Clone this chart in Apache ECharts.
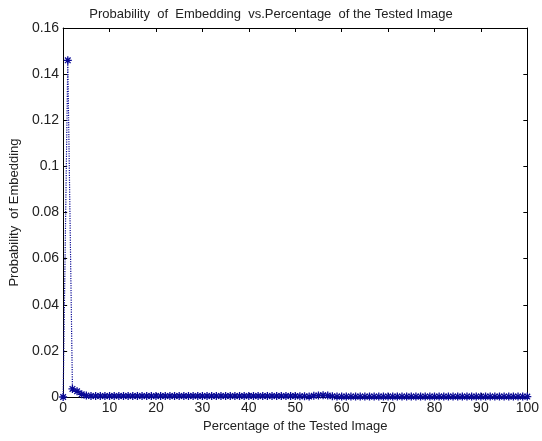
<!DOCTYPE html>
<html>
<head>
<meta charset="utf-8">
<script src="https://cdn.jsdelivr.net/npm/echarts@6/dist/echarts.min.js"></script>
<style>
  html, body { margin: 0; padding: 0; background: #fff; }
  #main { width: 542px; height: 441px; }
</style>
</head>
<body>
<div id="main"></div>
<script>
// percentage of the tested image (0..100)
var percent = [];
for (var i = 0; i <= 100; i++) { percent.push(i); }

// probability of embedding
var probability = [
  0, 0.146, 0.0035, 0.0025, 0.0012, 0.0006, 0.0004, 0.0004, 0.0004, 0.0004,
  0.0004, 0.0004, 0.0004, 0.0004, 0.0004, 0.0004, 0.0004, 0.0004, 0.0004, 0.0004,
  0.0004, 0.0004, 0.0004, 0.0004, 0.0004, 0.0004, 0.0004, 0.0004, 0.0004, 0.0004,
  0.0004, 0.0004, 0.0004, 0.0004, 0.0004, 0.0004, 0.0004, 0.0004, 0.0004, 0.0004,
  0.0004, 0.0004, 0.0004, 0.0004, 0.0004, 0.0004, 0.0004, 0.0004, 0.0004, 0.0004,
  0.0004, 0.0003, 0.0003, 0.0002, 0.0005, 0.0007, 0.0008, 0.0006, 0.0003, 0.0002,
  0.0002, 0.0002, 0.0002, 0.0002, 0.0002, 0.0002, 0.0002, 0.0002, 0.0002, 0.0002,
  0.0002, 0.0002, 0.0002, 0.0002, 0.0002, 0.0002, 0.0002, 0.0002, 0.0002, 0.0002,
  0.0002, 0.0002, 0.0002, 0.0002, 0.0002, 0.0002, 0.0002, 0.0002, 0.0002, 0.0002,
  0.0002, 0.0002, 0.0002, 0.0002, 0.0002, 0.0002, 0.0002, 0.0002, 0.0002, 0.0002,
  0.0002
];

var chart = echarts.init(document.getElementById('main'));
var fontFam = 'Liberation Sans, Arial, sans-serif';
var blue = '#0a0a96';
var txt = '#222';

var points = percent.map(function (x, k) { return [x, probability[k]]; });

var option = {
  animation: false,
  backgroundColor: '#fff',
  title: {
    text: 'Probability  of  Embedding  vs.Percentage  of the Tested Image',
    left: 'center',
    top: 3,
    textStyle: { fontFamily: fontFam, fontSize: 13, fontWeight: 'normal', color: txt }
  },
  grid: { left: 61, right: 10, top: 28, bottom: 44 },
  xAxis: [{
    type: 'value',
    min: 0, max: 100, interval: 10,
    name: 'Percentage of the Tested Image',
    nameLocation: 'middle',
    nameGap: 21,
    nameTextStyle: { fontFamily: fontFam, fontSize: 13, color: txt },
    axisLine: { lineStyle: { color: '#000' } },
    axisTick: { inside: true, length: 4, lineStyle: { color: '#000' } },
    axisLabel: { fontFamily: fontFam, fontSize: 14, color: txt, margin: 4 },
    splitLine: { show: false }
  }, {
    type: 'value', position: 'top',
    min: 0, max: 100, interval: 10,
    axisLine: { onZero: false, lineStyle: { color: '#000' } },
    axisTick: { inside: true, length: 4, lineStyle: { color: '#000' } },
    axisLabel: { show: false },
    splitLine: { show: false }
  }],
  yAxis: [{
    type: 'value',
    min: 0, max: 0.16, interval: 0.02,
    name: 'Probability  of Embedding',
    nameLocation: 'middle',
    nameGap: 41,
    nameTextStyle: { fontFamily: fontFam, fontSize: 13, color: txt },
    axisLine: { show: true, lineStyle: { color: '#000' } },
    axisTick: { show: true, inside: true, length: 4, lineStyle: { color: '#000' } },
    axisLabel: { fontFamily: fontFam, fontSize: 14, color: txt, margin: 4 },
    splitLine: { show: false }
  }, {
    type: 'value', position: 'right',
    min: 0, max: 0.16, interval: 0.02,
    axisLine: { show: true, onZero: false, lineStyle: { color: '#000' } },
    axisTick: { show: true, inside: true, length: 4, lineStyle: { color: '#000' } },
    axisLabel: { show: false },
    splitLine: { show: false }
  }],
  series: [{
    type: 'line',
    data: points,
    xAxisIndex: 0,
    yAxisIndex: 0,
    symbol: 'path://M0,5L10,5M5,0L5,10M1.5,1.5L8.5,8.5M8.5,1.5L1.5,8.5',
    symbolSize: 8,
    showAllSymbol: true,
    lineStyle: { color: blue, width: 1.2, type: 'dotted' },
    itemStyle: { color: 'rgba(0,0,0,0)', borderColor: blue, borderWidth: 1.3 }
  }]
};

chart.setOption(option);
</script>
</body>
</html>
